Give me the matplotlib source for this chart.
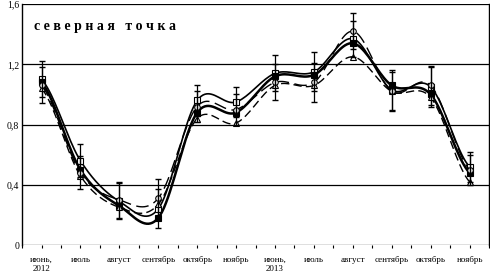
import numpy as np
import matplotlib
matplotlib.use("Agg")
import matplotlib.pyplot as plt

months = ['июнь,\n2012', 'июль', 'август', 'сентябрь', 'октябрь', 'ноябрь',
          'июнь,\n2013', 'июль', 'август', 'сентябрь', 'октябрь', 'ноябрь']

# четыре ряда наблюдений
s1 = [1.10, 0.56, 0.29, 0.24, 0.96, 0.95, 1.14, 1.15, 1.37, 1.03, 1.05, 0.52]
s2 = [1.08, 0.50, 0.26, 0.18, 0.88, 0.88, 1.12, 1.13, 1.34, 1.06, 1.00, 0.48]
s3 = [1.04, 0.46, 0.25, 0.27, 0.84, 0.81, 1.06, 1.06, 1.25, 1.02, 0.98, 0.42]
s4 = [1.06, 0.48, 0.30, 0.31, 0.92, 0.90, 1.08, 1.08, 1.42, 1.02, 1.06, 0.50]
err = [0.12, 0.11, 0.12, 0.13, 0.10, 0.10, 0.12, 0.13, 0.12, 0.13, 0.13, 0.10]


def smooth(y, n=20):
    # сглаживание как в Excel (Catmull-Rom)
    y = np.asarray(y, float)
    p = np.concatenate([[y[0]], y, [y[-1]]])
    xs, ys = [], []
    for i in range(len(y) - 1):
        t = np.linspace(0, 1, n, endpoint=False)
        p0, p1, p2, p3 = p[i], p[i + 1], p[i + 2], p[i + 3]
        v = 0.5 * (2 * p1 + (-p0 + p2) * t + (2 * p0 - 5 * p1 + 4 * p2 - p3) * t ** 2
                   + (-p0 + 3 * p1 - 3 * p2 + p3) * t ** 3)
        xs.append(i + t)
        ys.append(v)
    xs.append([len(y) - 1])
    ys.append([y[-1]])
    return np.concatenate(xs), np.concatenate(ys)


plt.rcParams['font.family'] = ['Liberation Serif', 'DejaVu Serif']
fig = plt.figure(figsize=(4.9, 2.75), dpi=100)
ax = fig.add_axes([0.045, 0.109, 0.953, 0.876])
x = np.arange(len(months))

styles = [(s1, '-', 1.2, 's', 'white'),
          (s2, '-', 1.8, 's', 'black'),
          (s3, (0, (6, 3)), 1.0, '^', 'white'),
          (s4, (0, (9, 4)), 1.0, 'o', 'white')]
for s, ls, lw, m, fc in styles:
    xx, yy = smooth(s)
    ax.plot(xx, yy, color='black', linestyle=ls, linewidth=lw)
    ax.plot(x, s, linestyle='none', marker=m, markersize=4,
            markerfacecolor=fc, markeredgecolor='black', markeredgewidth=0.8)

ax.errorbar(x, s1, yerr=err, fmt='none', ecolor='black', elinewidth=0.9, capsize=2.5)
ax.errorbar(x, s4, yerr=err, fmt='none', ecolor='black', elinewidth=0.9, capsize=2.5)

ax.set_xlim(-0.5, 11.5)
ax.set_ylim(0, 1.6)
ax.set_yticks([0, 0.4, 0.8, 1.2, 1.6])
ax.set_yticklabels(['0', '0,4', '0,8', '1,2', '1,6'], fontsize=7)
ax.set_xticks(x)
ax.set_xticklabels(months, fontsize=6.5)
ax.set_xticks(np.arange(-0.5, 11.6, 0.5), minor=True)
ax.tick_params(axis='x', which='both', length=2, width=0.8, pad=6)
ax.tick_params(axis='y', length=0, pad=2)
ax.grid(axis='y', color='black', linewidth=0.9)
ax.spines['bottom'].set_visible(False)
ax.spines['top'].set_visible(False)
ax.spines['left'].set_linewidth(1.0)
ax.spines['right'].set_linewidth(1.0)

ax.text(0.025, 0.935, 'с е в е р н а я   т о ч к а', transform=ax.transAxes,
        fontsize=10, fontweight='bold', va='top', ha='left')

fig.savefig('out.png', dpi=100)
